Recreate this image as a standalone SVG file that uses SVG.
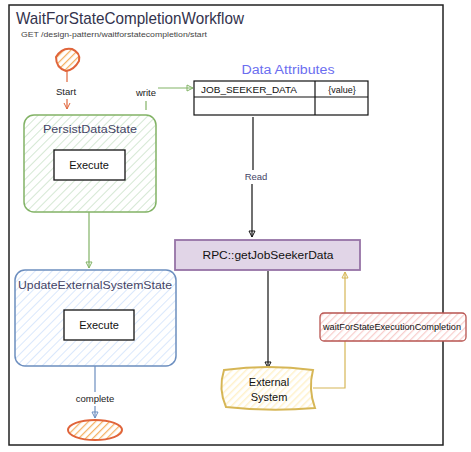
<svg xmlns="http://www.w3.org/2000/svg" width="471" height="452" viewBox="0 0 471 452">
<style>
text{font-family:"Liberation Sans","DejaVu Sans",sans-serif;fill:#222}
.t{font-size:17px;fill:#33334d}
.sub{font-size:8px;fill:#444}
.lbl{font-size:9.5px;text-anchor:middle}
.nm{font-size:11.5px;text-anchor:middle;fill:#444466}
.ex{font-size:11px;text-anchor:middle;fill:#111}
.cell{font-size:9px;fill:#111}
.c{fill:none;stroke-width:1.2}
</style>
<defs>
<pattern id="hg" width="6" height="6" patternUnits="userSpaceOnUse" patternTransform="rotate(45)"><rect width="6" height="6" fill="#fff"/><line x1="0" y1="0" x2="0" y2="6" stroke="#d5e8d4" stroke-width="2"/></pattern>
<pattern id="hb" width="6" height="6" patternUnits="userSpaceOnUse" patternTransform="rotate(45)"><rect width="6" height="6" fill="#fff"/><line x1="0" y1="0" x2="0" y2="6" stroke="#dae8fc" stroke-width="2"/></pattern>
<pattern id="ho" width="5" height="5" patternUnits="userSpaceOnUse" patternTransform="rotate(45)"><rect width="5" height="5" fill="#fff"/><line x1="0" y1="0" x2="0" y2="5" stroke="#f5b366" stroke-width="2.5"/></pattern>
<pattern id="hy" width="5" height="5" patternUnits="userSpaceOnUse" patternTransform="rotate(45)"><rect width="5" height="5" fill="#fff"/><line x1="0" y1="0" x2="0" y2="5" stroke="#fff2cc" stroke-width="3"/></pattern>
<pattern id="hr" width="5" height="5" patternUnits="userSpaceOnUse" patternTransform="rotate(45)"><rect width="5" height="5" fill="#fff"/><line x1="0" y1="0" x2="0" y2="5" stroke="#f8cecc" stroke-width="2.5"/></pattern>
<marker id="ag" markerWidth="8" markerHeight="8" refX="7" refY="4" orient="auto" markerUnits="userSpaceOnUse"><path d="M1,1 L7,4 L1,7 Z" fill="none" stroke="#82b366"/></marker>
<marker id="ao" markerWidth="8" markerHeight="8" refX="7" refY="4" orient="auto" markerUnits="userSpaceOnUse"><path d="M1,1 L7,4 L1,7" fill="none" stroke="#e0643a"/></marker>
<marker id="ab" markerWidth="8" markerHeight="8" refX="7" refY="4" orient="auto" markerUnits="userSpaceOnUse"><path d="M1,1 L7,4 L1,7 Z" fill="none" stroke="#6c8ebf"/></marker>
<marker id="ak" markerWidth="8" markerHeight="8" refX="7" refY="4" orient="auto" markerUnits="userSpaceOnUse"><path d="M1,1 L7,4 L1,7 Z" fill="none" stroke="#111"/></marker>
<marker id="ay" markerWidth="8" markerHeight="8" refX="7" refY="4" orient="auto" markerUnits="userSpaceOnUse"><path d="M1,1 L7,4 L1,7 Z" fill="none" stroke="#d6b656"/></marker>
</defs>
<rect width="471" height="452" fill="#fff"/>
<g id="frame">
<rect x="9" y="5" width="434" height="440" fill="none" stroke="#222" stroke-width="1.5"/>
<text class="t" x="16" y="24" textLength="228" lengthAdjust="spacingAndGlyphs">WaitForStateCompletionWorkflow</text>
<text class="sub" x="21" y="37" textLength="186" lengthAdjust="spacingAndGlyphs">GET /design-pattern/waitforstatecompletion/start</text>
</g>
<g id="connectors">
<path class="c" d="M67,71 L67,82" stroke="#e0643a"/>
<text class="lbl" x="66" y="95">Start</text>
<path class="c" d="M67,99 L67,109" stroke="#e0643a" marker-end="url(#ao)"/>
<path class="c" d="M146,110 L146,101" stroke="#82b366"/>
<text class="lbl" x="146" y="96">write</text>
<path class="c" d="M158,88 L193,88" stroke="#82b366" marker-end="url(#ag)"/>
<path class="c" d="M89,212 L89,268" stroke="#82b366" marker-end="url(#ag)"/>
<path class="c" d="M253,117 L253,170" stroke="#111"/>
<text class="lbl" x="256" y="180" style="fill:#444466">Read</text>
<path class="c" d="M252,184 L252,237" stroke="#111" marker-end="url(#ak)"/>
<path class="c" d="M268,271 L268,368" stroke="#111" marker-end="url(#ak)"/>
<path class="c" d="M313,388 L345,388 L345,272" stroke="#d6b656" marker-end="url(#ay)"/>
<path class="c" d="M95,366 L95,392" stroke="#6c8ebf"/>
<text class="lbl" x="95" y="402">complete</text>
<path class="c" d="M95,406 L95,418" stroke="#6c8ebf" marker-end="url(#ab)"/>
</g>
<g id="start">
<path d="M56,57 Q62,47 72,49 Q81,53 79,61 Q74,70 66,71 Q56,68 56,57 Z" fill="url(#ho)" stroke="#e0643a" stroke-width="2"/>
</g>
<g id="persistDataState">
<rect x="24" y="115" width="132" height="97" rx="10" fill="url(#hg)" stroke="#82b366" stroke-width="1.5"/>
<text class="nm" x="90" y="133" textLength="94" lengthAdjust="spacingAndGlyphs">PersistDataState</text>
<rect x="54" y="150" width="71" height="30" fill="#fff" stroke="#111" stroke-width="1.3"/>
<text class="ex" x="89" y="169">Execute</text>
</g>
<g id="dataAttributes">
<text x="288" y="74" textLength="93" lengthAdjust="spacingAndGlyphs" style="font-size:12px;text-anchor:middle;fill:#6b6ef0">Data Attributes</text>
<rect x="194" y="81" width="174" height="34" fill="#fff" stroke="#111" stroke-width="1.2"/>
<line x1="194" y1="97" x2="368" y2="97" stroke="#111" stroke-width="1.2"/>
<line x1="315" y1="81" x2="315" y2="115" stroke="#111" stroke-width="1.2"/>
<text class="cell" x="201" y="93" textLength="96" lengthAdjust="spacingAndGlyphs">JOB_SEEKER_DATA</text>
<text class="cell" x="342" y="93" text-anchor="middle">{value}</text>
</g>
<g id="rpc">
<rect x="175" y="240" width="185" height="30" fill="#e1d5e7" stroke="#9673a6" stroke-width="1.8"/>
<text class="ex" x="268" y="259" textLength="131" lengthAdjust="spacingAndGlyphs">RPC::getJobSeekerData</text>
</g>
<g id="updateExternalSystemState">
<rect x="15" y="270" width="161" height="96" rx="10" fill="url(#hb)" stroke="#6c8ebf" stroke-width="1.5"/>
<text class="nm" x="95" y="289" textLength="154" lengthAdjust="spacingAndGlyphs">UpdateExternalSystemState</text>
<rect x="64" y="310" width="70" height="30" fill="#fff" stroke="#111" stroke-width="1.3"/>
<text class="ex" x="99" y="329">Execute</text>
</g>
<g id="externalSystem">
<path d="M224,370 Q268,364 313,370 Q308,389 315,408 Q270,412 226,407 Q218,389 224,370 Z" fill="url(#hy)" stroke="#d6b656" stroke-width="2"/>
<text class="ex" x="269" y="386">External</text>
<text class="ex" x="269" y="401">System</text>
</g>
<g id="waitLabel">
<rect x="320" y="313" width="146" height="28" rx="4" fill="url(#hr)" stroke="#b85450" stroke-width="1.3"/>
<text x="392" y="330" textLength="138" lengthAdjust="spacingAndGlyphs" style="font-size:8.5px;text-anchor:middle;fill:#111">waitForStateExecutionCompletion</text>
</g>
<g id="end">
<ellipse cx="95" cy="430" rx="27" ry="10" fill="url(#ho)" stroke="#e0643a" stroke-width="2"/>
</g>
</svg>
